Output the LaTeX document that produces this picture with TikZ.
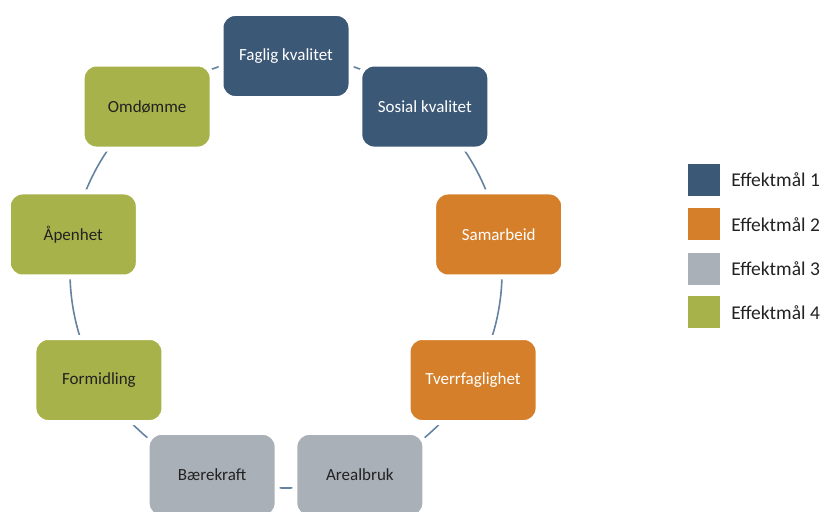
\documentclass[tikz,border=0pt]{standalone}
\usepackage{fontspec}
\setmainfont{Carlito}
\usepackage{xcolor}
\usetikzlibrary{positioning,backgrounds}
\definecolor{goalblue}{HTML}{3C5877}
\definecolor{goalorange}{HTML}{D67F2A}
\definecolor{goalgray}{HTML}{AAB0B7}
\definecolor{goalgreen}{HTML}{A8B24A}
\definecolor{ringline}{HTML}{6583A0}
\definecolor{darktext}{HTML}{222222}
\tikzset{
    goal-box/.style = {rectangle, rounded corners=14pt, draw=white, line width=5pt, minimum width=130pt, minimum height=85pt, font=\fontsize{17}{20}\selectfont},
    goal1/.style = {goal-box, fill=goalblue, text=white},
    goal2/.style = {goal-box, fill=goalorange, text=white},
    goal3/.style = {goal-box, fill=goalgray, text=darktext},
    goal4/.style = {goal-box, fill=goalgreen, text=darktext},
    ring-arc/.style = {draw=ringline, line width=1.6pt},
    legend-box/.style = {rectangle, minimum size=32pt, inner sep=0pt},
    legend-text/.style = {text=darktext, font=\fontsize{19.5}{22}\selectfont, inner sep=0pt},
}

\begin{document}
\begin{tikzpicture}[x=1pt, y=1pt]
\useasboundingbox (0,0) rectangle (824,-511);
\clip (0,0) rectangle (824,-511);
\coordinate (hub) at (286,-272);

% the nine goals round the ring
\begin{scope}[shift={(hub)}]
\foreach \ang/\nm/\sty/\txt in {90/faglig/goal1/Faglig kvalitet, 50/sosial/goal1/Sosial kvalitet,
    10/samarbeid/goal2/Samarbeid, -30/tverrfag/goal2/Tverrfaglighet, -70/arealbruk/goal3/Arealbruk,
    -110/baerekraft/goal3/B{\ae}rekraft, -150/formidling/goal4/Formidling, 170/aapenhet/goal4/{\AA}penhet,
    130/omdomme/goal4/Omd{\o}mme}
    \node[\sty] (\nm) at (\ang:216) {\txt};
\end{scope}

% ring segments, hidden under the boxes
\begin{scope}[on background layer]
\foreach \a/\b/\s/\e in {faglig/sosial/90/50, sosial/samarbeid/50/10, samarbeid/tverrfag/10/-30,
    tverrfag/arealbruk/-30/-70, arealbruk/baerekraft/-70/-110, baerekraft/formidling/-110/-150,
    formidling/aapenhet/-150/-190, aapenhet/omdomme/170/130, omdomme/faglig/130/90}
    \draw[ring-arc] (\a.center) arc[start angle=\s, end angle=\e, radius=216];
\end{scope}

% legend
\node[legend-box, fill=goalblue] (leg1) at (704,-180) {};
\node[legend-box, fill=goalorange, below=12pt of leg1] (leg2) {};
\node[legend-box, fill=goalgray, below=12pt of leg2] (leg3) {};
\node[legend-box, fill=goalgreen, below=11pt of leg3] (leg4) {};
\node[legend-text, right=11pt of leg1] (lab1) {Effektmål 1};
\node[legend-text, right=11pt of leg2] (lab2) {Effektmål 2};
\node[legend-text, right=11pt of leg3] (lab3) {Effektmål 3};
\node[legend-text, right=11pt of leg4] (lab4) {Effektmål 4};
\end{tikzpicture}
\end{document}
